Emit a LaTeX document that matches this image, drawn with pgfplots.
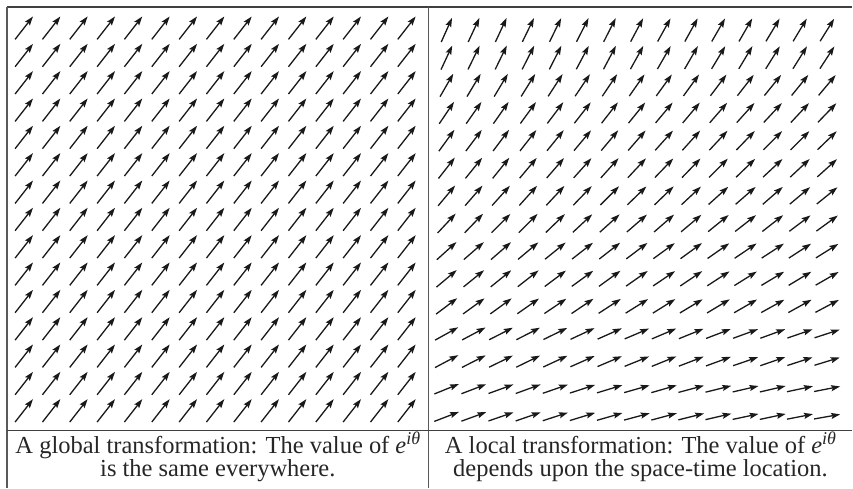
\documentclass[border=0pt]{standalone}
\usepackage{pgfplots}
\pgfplotsset{compat=1.18}
\usepackage{pgfplotstable}
\usepackage{fontspec}
\setmainfont{Liberation Serif}
\newfontfamily\capfont{Liberation Serif}
\usetikzlibrary{arrows.meta}

\pgfplotstableread[row sep=\\]{
x y\\
24.0 28.0\\ 51.4 28.0\\ 78.7 28.0\\ 106.1 28.0\\ 133.4 28.0\\ 160.8 28.0\\ 188.2 28.0\\ 215.5 28.0\\ 242.9 28.0\\ 270.2 28.0\\ 297.6 28.0\\ 325.0 28.0\\ 352.3 28.0\\ 379.7 28.0\\ 407.0 28.0\\
24.0 55.4\\ 51.4 55.4\\ 78.7 55.4\\ 106.1 55.4\\ 133.4 55.4\\ 160.8 55.4\\ 188.2 55.4\\ 215.5 55.4\\ 242.9 55.4\\ 270.2 55.4\\ 297.6 55.4\\ 325.0 55.4\\ 352.3 55.4\\ 379.7 55.4\\ 407.0 55.4\\
24.0 82.7\\ 51.4 82.7\\ 78.7 82.7\\ 106.1 82.7\\ 133.4 82.7\\ 160.8 82.7\\ 188.2 82.7\\ 215.5 82.7\\ 242.9 82.7\\ 270.2 82.7\\ 297.6 82.7\\ 325.0 82.7\\ 352.3 82.7\\ 379.7 82.7\\ 407.0 82.7\\
24.0 110.1\\ 51.4 110.1\\ 78.7 110.1\\ 106.1 110.1\\ 133.4 110.1\\ 160.8 110.1\\ 188.2 110.1\\ 215.5 110.1\\ 242.9 110.1\\ 270.2 110.1\\ 297.6 110.1\\ 325.0 110.1\\ 352.3 110.1\\ 379.7 110.1\\ 407.0 110.1\\
24.0 137.4\\ 51.4 137.4\\ 78.7 137.4\\ 106.1 137.4\\ 133.4 137.4\\ 160.8 137.4\\ 188.2 137.4\\ 215.5 137.4\\ 242.9 137.4\\ 270.2 137.4\\ 297.6 137.4\\ 325.0 137.4\\ 352.3 137.4\\ 379.7 137.4\\ 407.0 137.4\\
24.0 164.8\\ 51.4 164.8\\ 78.7 164.8\\ 106.1 164.8\\ 133.4 164.8\\ 160.8 164.8\\ 188.2 164.8\\ 215.5 164.8\\ 242.9 164.8\\ 270.2 164.8\\ 297.6 164.8\\ 325.0 164.8\\ 352.3 164.8\\ 379.7 164.8\\ 407.0 164.8\\
24.0 192.2\\ 51.4 192.2\\ 78.7 192.2\\ 106.1 192.2\\ 133.4 192.2\\ 160.8 192.2\\ 188.2 192.2\\ 215.5 192.2\\ 242.9 192.2\\ 270.2 192.2\\ 297.6 192.2\\ 325.0 192.2\\ 352.3 192.2\\ 379.7 192.2\\ 407.0 192.2\\
24.0 219.5\\ 51.4 219.5\\ 78.7 219.5\\ 106.1 219.5\\ 133.4 219.5\\ 160.8 219.5\\ 188.2 219.5\\ 215.5 219.5\\ 242.9 219.5\\ 270.2 219.5\\ 297.6 219.5\\ 325.0 219.5\\ 352.3 219.5\\ 379.7 219.5\\ 407.0 219.5\\
24.0 246.9\\ 51.4 246.9\\ 78.7 246.9\\ 106.1 246.9\\ 133.4 246.9\\ 160.8 246.9\\ 188.2 246.9\\ 215.5 246.9\\ 242.9 246.9\\ 270.2 246.9\\ 297.6 246.9\\ 325.0 246.9\\ 352.3 246.9\\ 379.7 246.9\\ 407.0 246.9\\
24.0 274.2\\ 51.4 274.2\\ 78.7 274.2\\ 106.1 274.2\\ 133.4 274.2\\ 160.8 274.2\\ 188.2 274.2\\ 215.5 274.2\\ 242.9 274.2\\ 270.2 274.2\\ 297.6 274.2\\ 325.0 274.2\\ 352.3 274.2\\ 379.7 274.2\\ 407.0 274.2\\
24.0 301.6\\ 51.4 301.6\\ 78.7 301.6\\ 106.1 301.6\\ 133.4 301.6\\ 160.8 301.6\\ 188.2 301.6\\ 215.5 301.6\\ 242.9 301.6\\ 270.2 301.6\\ 297.6 301.6\\ 325.0 301.6\\ 352.3 301.6\\ 379.7 301.6\\ 407.0 301.6\\
24.0 329.0\\ 51.4 329.0\\ 78.7 329.0\\ 106.1 329.0\\ 133.4 329.0\\ 160.8 329.0\\ 188.2 329.0\\ 215.5 329.0\\ 242.9 329.0\\ 270.2 329.0\\ 297.6 329.0\\ 325.0 329.0\\ 352.3 329.0\\ 379.7 329.0\\ 407.0 329.0\\
24.0 356.3\\ 51.4 356.3\\ 78.7 356.3\\ 106.1 356.3\\ 133.4 356.3\\ 160.8 356.3\\ 188.2 356.3\\ 215.5 356.3\\ 242.9 356.3\\ 270.2 356.3\\ 297.6 356.3\\ 325.0 356.3\\ 352.3 356.3\\ 379.7 356.3\\ 407.0 356.3\\
24.0 383.7\\ 51.4 383.7\\ 78.7 383.7\\ 106.1 383.7\\ 133.4 383.7\\ 160.8 383.7\\ 188.2 383.7\\ 215.5 383.7\\ 242.9 383.7\\ 270.2 383.7\\ 297.6 383.7\\ 325.0 383.7\\ 352.3 383.7\\ 379.7 383.7\\ 407.0 383.7\\
24.0 411.0\\ 51.4 411.0\\ 78.7 411.0\\ 106.1 411.0\\ 133.4 411.0\\ 160.8 411.0\\ 188.2 411.0\\ 215.5 411.0\\ 242.9 411.0\\ 270.2 411.0\\ 297.6 411.0\\ 325.0 411.0\\ 352.3 411.0\\ 379.7 411.0\\ 407.0 411.0\\
}\leftdata

\pgfplotstableread[row sep=\\]{
x y a\\
447.0 30.0 66\\ 474.2 30.0 65\\ 501.4 30.0 65\\ 528.6 30.0 64\\ 555.8 30.0 64\\ 583.0 30.0 63\\ 610.2 30.0 63\\ 637.4 30.0 62\\ 664.6 30.0 61\\ 691.8 30.0 61\\ 719.0 30.0 60\\ 746.2 30.0 60\\ 773.4 30.0 59\\ 800.6 30.0 59\\ 827.8 30.0 58\\
447.0 57.6 65\\ 474.2 57.6 64\\ 501.4 57.6 64\\ 528.6 57.6 63\\ 555.8 57.6 63\\ 583.0 57.6 62\\ 610.2 57.6 62\\ 637.4 57.6 61\\ 664.6 57.6 60\\ 691.8 57.6 60\\ 719.0 57.6 59\\ 746.2 57.6 59\\ 773.4 57.6 58\\ 800.6 57.6 58\\ 827.8 57.6 57\\
447.0 85.3 60\\ 474.2 85.3 59\\ 501.4 85.3 59\\ 528.6 85.3 58\\ 555.8 85.3 57\\ 583.0 85.3 56\\ 610.2 85.3 56\\ 637.4 85.3 55\\ 664.6 85.3 54\\ 691.8 85.3 54\\ 719.0 85.3 53\\ 746.2 85.3 52\\ 773.4 85.3 51\\ 800.6 85.3 51\\ 827.8 85.3 50\\
447.0 112.9 56\\ 474.2 112.9 55\\ 501.4 112.9 55\\ 528.6 112.9 54\\ 555.8 112.9 53\\ 583.0 112.9 52\\ 610.2 112.9 52\\ 637.4 112.9 51\\ 664.6 112.9 50\\ 691.8 112.9 50\\ 719.0 112.9 49\\ 746.2 112.9 48\\ 773.4 112.9 47\\ 800.6 112.9 47\\ 827.8 112.9 46\\
447.0 140.6 54\\ 474.2 140.6 53\\ 501.4 140.6 53\\ 528.6 140.6 52\\ 555.8 140.6 51\\ 583.0 140.6 50\\ 610.2 140.6 50\\ 637.4 140.6 49\\ 664.6 140.6 48\\ 691.8 140.6 48\\ 719.0 140.6 47\\ 746.2 140.6 46\\ 773.4 140.6 45\\ 800.6 140.6 45\\ 827.8 140.6 44\\
447.0 168.2 52\\ 474.2 168.2 51\\ 501.4 168.2 51\\ 528.6 168.2 50\\ 555.8 168.2 49\\ 583.0 168.2 48\\ 610.2 168.2 48\\ 637.4 168.2 47\\ 664.6 168.2 46\\ 691.8 168.2 46\\ 719.0 168.2 45\\ 746.2 168.2 44\\ 773.4 168.2 43\\ 800.6 168.2 43\\ 827.8 168.2 42\\
447.0 195.8 50\\ 474.2 195.8 49\\ 501.4 195.8 48\\ 528.6 195.8 48\\ 555.8 195.8 47\\ 583.0 195.8 46\\ 610.2 195.8 45\\ 637.4 195.8 44\\ 664.6 195.8 44\\ 691.8 195.8 43\\ 719.0 195.8 42\\ 746.2 195.8 41\\ 773.4 195.8 41\\ 800.6 195.8 40\\ 827.8 195.8 39\\
447.0 223.5 47\\ 474.2 223.5 46\\ 501.4 223.5 45\\ 528.6 223.5 45\\ 555.8 223.5 44\\ 583.0 223.5 43\\ 610.2 223.5 42\\ 637.4 223.5 41\\ 664.6 223.5 41\\ 691.8 223.5 40\\ 719.0 223.5 39\\ 746.2 223.5 38\\ 773.4 223.5 38\\ 800.6 223.5 37\\ 827.8 223.5 36\\
447.0 251.1 42\\ 474.2 251.1 41\\ 501.4 251.1 41\\ 528.6 251.1 40\\ 555.8 251.1 39\\ 583.0 251.1 38\\ 610.2 251.1 38\\ 637.4 251.1 37\\ 664.6 251.1 36\\ 691.8 251.1 36\\ 719.0 251.1 35\\ 746.2 251.1 34\\ 773.4 251.1 33\\ 800.6 251.1 33\\ 827.8 251.1 32\\
447.0 278.8 40\\ 474.2 278.8 39\\ 501.4 278.8 39\\ 528.6 278.8 38\\ 555.8 278.8 37\\ 583.0 278.8 36\\ 610.2 278.8 36\\ 637.4 278.8 35\\ 664.6 278.8 34\\ 691.8 278.8 34\\ 719.0 278.8 33\\ 746.2 278.8 32\\ 773.4 278.8 31\\ 800.6 278.8 31\\ 827.8 278.8 30\\
447.0 306.4 37\\ 474.2 306.4 36\\ 501.4 306.4 36\\ 528.6 306.4 35\\ 555.8 306.4 34\\ 583.0 306.4 34\\ 610.2 306.4 33\\ 637.4 306.4 32\\ 664.6 306.4 32\\ 691.8 306.4 31\\ 719.0 306.4 31\\ 746.2 306.4 30\\ 773.4 306.4 29\\ 800.6 306.4 29\\ 827.8 306.4 28\\
447.0 334.0 29\\ 474.2 334.0 28\\ 501.4 334.0 27\\ 528.6 334.0 27\\ 555.8 334.0 26\\ 583.0 334.0 25\\ 610.2 334.0 24\\ 637.4 334.0 23\\ 664.6 334.0 23\\ 691.8 334.0 22\\ 719.0 334.0 21\\ 746.2 334.0 20\\ 773.4 334.0 20\\ 800.6 334.0 19\\ 827.8 334.0 18\\
447.0 361.7 28\\ 474.2 361.7 27\\ 501.4 361.7 26\\ 528.6 361.7 26\\ 555.8 361.7 25\\ 583.0 361.7 24\\ 610.2 361.7 23\\ 637.4 361.7 22\\ 664.6 361.7 22\\ 691.8 361.7 21\\ 719.0 361.7 20\\ 746.2 361.7 19\\ 773.4 361.7 19\\ 800.6 361.7 18\\ 827.8 361.7 17\\
447.0 389.3 22\\ 474.2 389.3 21\\ 501.4 389.3 20\\ 528.6 389.3 20\\ 555.8 389.3 19\\ 583.0 389.3 18\\ 610.2 389.3 17\\ 637.4 389.3 16\\ 664.6 389.3 16\\ 691.8 389.3 15\\ 719.0 389.3 14\\ 746.2 389.3 13\\ 773.4 389.3 13\\ 800.6 389.3 12\\ 827.8 389.3 11\\
447.0 417.0 21\\ 474.2 417.0 20\\ 501.4 417.0 19\\ 528.6 417.0 19\\ 555.8 417.0 18\\ 583.0 417.0 17\\ 610.2 417.0 16\\ 637.4 417.0 15\\ 664.6 417.0 15\\ 691.8 417.0 14\\ 719.0 417.0 13\\ 746.2 417.0 12\\ 773.4 417.0 12\\ 800.6 417.0 11\\ 827.8 417.0 10\\
}\rightdata

\newcommand{\eitheta}{\textit{e}\raisebox{0.36em}{\fontsize{18}{18}\selectfont\textit{iθ}}}

\begin{document}
\begin{tikzpicture}
\begin{axis}[
  x=1pt, y=1pt,
  xmin=0, xmax=853, ymin=0, ymax=488,
  y dir=reverse,
  hide axis,
  clip=false,
]
\path (axis cs:0,0) rectangle (axis cs:853,488);
% frame
\draw[black!75, line width=1.4pt] (axis cs:7,7) -- (axis cs:853,7);
\draw[black!65, line width=1.3pt] (axis cs:7,7) -- (axis cs:7,488);
\draw[black!65, line width=1.3pt] (axis cs:429,7) -- (axis cs:429,488);
\draw[black!75, line width=1.3pt] (axis cs:7,431) -- (axis cs:853,431);

% left panel: uniform field
\addplot[black!90, line width=1.3pt, -{Stealth[length=9pt,width=6pt,inset=1.5pt]},
  quiver={u=17.9, v=-22.9}]
  table[x expr={\thisrow{x}-8.9}, y expr={\thisrow{y}+11.4}] {\leftdata};

% right panel: varying field
\addplot[black!90, line width=1.3pt, -{Stealth[length=9pt,width=6pt,inset=1.5pt]},
  quiver={u={26.5*cos(\thisrow{a})}, v={-26.5*sin(\thisrow{a})}}]
  table[x expr={\thisrow{x}-13.25*cos(\thisrow{a})}, y expr={\thisrow{y}+13.25*sin(\thisrow{a})}] {\rightdata};

% captions
\node[anchor=base, font=\capfont\fontsize{24.5}{24.5}\selectfont, text=black!85] at (axis cs:218,454)
  {A global transformation: The value of \eitheta};
\node[anchor=base, font=\capfont\fontsize{24.5}{24.5}\selectfont, text=black!85] at (axis cs:218,477)
  {is the same everywhere.};
\node[anchor=base, font=\capfont\fontsize{24.5}{24.5}\selectfont, text=black!85] at (axis cs:641,454)
  {A local transformation: The value of \eitheta};
\node[anchor=base, font=\capfont\fontsize{24.5}{24.5}\selectfont, text=black!85] at (axis cs:641,477)
  {depends upon the space-time location.};
\end{axis}
\end{tikzpicture}
\end{document}
